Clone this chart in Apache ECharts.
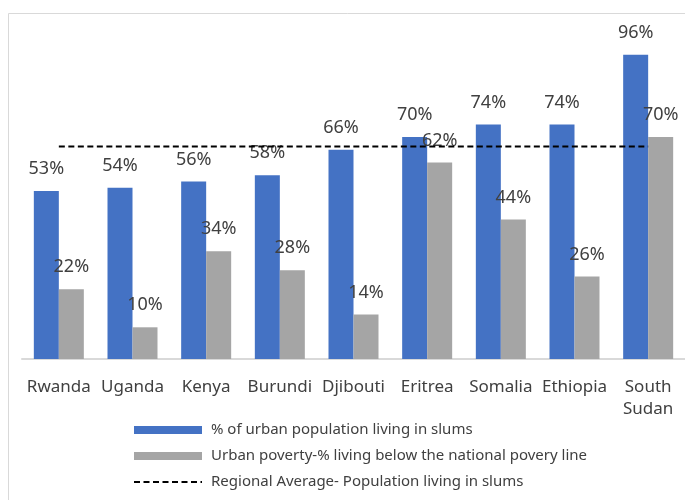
<!DOCTYPE html>
<html>
<head>
<meta charset="utf-8">
<script src="https://cdn.jsdelivr.net/npm/echarts@6/dist/echarts.min.js"></script>
<style>
  html, body { margin: 0; padding: 0; background: #fff; }
  #chart { width: 685px; height: 500px; }
</style>
</head>
<body>
<div id="chart"></div>
<script>
// Countries along the horizontal axis
const countries = ['Rwanda', 'Uganda', 'Kenya', 'Burundi', 'Djibouti', 'Eritrea', 'Somalia', 'Ethiopia', 'South\nSudan'];
// Share of urban population living in slums (%)
const slumShare = [53, 54, 56, 58, 66, 70, 74, 74, 96];
// Urban poverty: share living below the national poverty line (%)
const urbanPoverty = [22, 10, 34, 28, 14, 62, 44, 26, 70];
// Regional average of the population living in slums (%)
const regionalAverage = 67;

const seriesNames = [
  '% of urban population living in slums',
  'Urban poverty-% living below the national povery line',
  'Regional Average- Population living in slums'
];

const FONT = '"Noto Sans", sans-serif';
const TEXT = '#404040';

const chart = echarts.init(document.getElementById('chart'));

const valueLabel = {
  show: true,
  position: 'top',
  distance: 13,
  formatter: p => p.value + '%',
  color: TEXT,
  fontFamily: FONT,
  fontSize: 18
};

chart.setOption({
  animation: false,
  backgroundColor: '#fff',
  graphic: [{
    type: 'rect',
    shape: { x: 8.5, y: 13.5, width: 700, height: 500 },
    style: { fill: 'none', stroke: '#D9D9D9', lineWidth: 1 },
    silent: true
  }],
  grid: { left: 22, top: 42, width: 669, height: 317 },
  legend: {
    orient: 'vertical',
    left: 128,
    top: 417,
    itemWidth: 68,
    itemHeight: 8,
    itemGap: 10,
    textStyle: {
      color: TEXT, fontFamily: FONT, fontSize: 15, lineHeight: 16,
      padding: [0, 0, 0, 4]
    },
    data: [
      { name: seriesNames[0], icon: 'rect' },
      { name: seriesNames[1], icon: 'rect' },
      // dashed line only, no marker dot
      { name: seriesNames[2], itemStyle: { opacity: 0, color: 'rgba(0,0,0,0)', borderWidth: 0 } }
    ]
  },
  xAxis: {
    type: 'category',
    data: countries,
    axisLine: { lineStyle: { color: '#D9D9D9', width: 2 } },
    axisTick: { show: false },
    axisLabel: {
      color: TEXT, fontFamily: FONT, fontSize: 17, margin: 17,
      interval: 0, lineHeight: 22
    }
  },
  yAxis: {
    type: 'value', min: 0, max: 100, show: false,
    splitLine: { show: false }
  },
  series: [
    {
      name: seriesNames[0],
      type: 'bar',
      data: slumShare,
      barWidth: 25,
      barGap: '0%',
      itemStyle: { color: '#4472C4' },
      label: valueLabel,
      z: 2
    },
    {
      name: seriesNames[1],
      type: 'bar',
      data: urbanPoverty,
      barWidth: 25,
      barGap: '0%',
      itemStyle: { color: '#A5A5A5' },
      label: valueLabel,
      z: 2
    },
    {
      name: seriesNames[2],
      type: 'line',
      data: countries.map(() => regionalAverage),
      symbol: 'none',
      lineStyle: { color: '#000', width: 2, type: [6, 3.5] },
      itemStyle: { color: '#000' },
      z: 5
    }
  ]
});
</script>
</body>
</html>
